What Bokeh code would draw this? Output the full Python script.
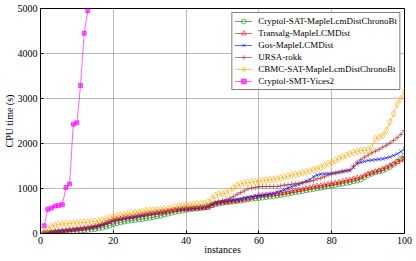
from bokeh.plotting import figure
from bokeh.models import Range1d, FixedTicker, Legend, LegendItem
from bokeh.embed import file_html
from bokeh.resources import INLINE

instances = list(range(1, 101))

cryptol_sat = [5, 8, 12, 18, 22, 28, 35, 42, 50, 58,
               65, 72, 80, 90, 100, 115, 130, 150, 175, 210,
               230, 250, 265, 280, 290, 300, 315, 325, 338, 350,
               365, 380, 400, 420, 440, 460, 480, 495, 510, 525,
               535, 545, 555, 565, 575, 600, 630, 650, 665, 680,
               690, 700, 710, 720, 730, 745, 760, 770, 780, 790,
               800, 810, 820, 830, 844, 855, 870, 885, 900, 918,
               930, 945, 960, 975, 990, 1005, 1015, 1030, 1050, 1067,
               1080, 1095, 1110, 1125, 1141, 1160, 1178, 1200, 1250, 1300,
               1330, 1360, 1380, 1400, 1437, 1480, 1530, 1600, 1660, 1730]

transalg = [10, 18, 25, 35, 45, 55, 65, 75, 82, 90,
            100, 110, 125, 140, 155, 175, 200, 230, 260, 290,
            310, 325, 340, 355, 365, 375, 390, 405, 420, 437,
            445, 455, 465, 478, 490, 505, 518, 528, 535, 540,
            545, 550, 555, 560, 565, 570, 610, 659, 675, 689,
            695, 705, 715, 725, 740, 755, 770, 790, 815, 844,
            850, 858, 865, 872, 881, 895, 910, 925, 940, 955,
            970, 985, 1000, 1020, 1040, 1055, 1067, 1080, 1095, 1104,
            1120, 1140, 1160, 1180, 1193, 1215, 1235, 1252, 1290, 1326,
            1350, 1375, 1400, 1437, 1470, 1510, 1550, 1590, 1625, 1659]

gos = [8, 15, 25, 40, 55, 62, 70, 80, 90, 100,
       108, 118, 128, 140, 150, 170, 195, 220, 250, 289,
       305, 320, 335, 350, 362, 375, 390, 405, 420, 437,
       448, 460, 472, 485, 500, 515, 530, 540, 548, 555,
       560, 565, 570, 575, 580, 600, 640, 680, 700, 710,
       720, 730, 740, 750, 765, 790, 807, 815, 830, 840,
       850, 862, 875, 890, 918, 940, 975, 1010, 1040, 1067,
       1095, 1125, 1163, 1200, 1260, 1300, 1320, 1325, 1330, 1335,
       1345, 1360, 1375, 1390, 1400, 1470, 1548, 1580, 1600, 1622,
       1630, 1640, 1650, 1659, 1680, 1700, 1733, 1770, 1820, 1882]

ursa = [10, 20, 30, 40, 50, 60, 70, 80, 90, 100,
        110, 120, 135, 150, 170, 190, 215, 245, 275, 310,
        325, 340, 355, 365, 378, 390, 405, 420, 435, 450,
        460, 472, 485, 498, 510, 522, 535, 545, 555, 565,
        570, 578, 585, 595, 605, 625, 660, 690, 710, 730,
        750, 780, 820, 870, 910, 950, 993, 1010, 1025, 1040,
        1042, 1043, 1044, 1044, 1044, 1060, 1075, 1085, 1095, 1104,
        1115, 1130, 1145, 1160, 1180, 1215, 1230, 1260, 1300, 1326,
        1345, 1365, 1385, 1400, 1415, 1500, 1585, 1640, 1696, 1740,
        1790, 1830, 1870, 1918, 1960, 2010, 2067, 2130, 2200, 2289]

cbmc = [30, 110, 155, 178, 200, 210, 215, 220, 230, 237,
        240, 245, 250, 258, 266, 280, 300, 326, 345, 370,
        390, 405, 420, 440, 452, 465, 480, 492, 503, 511,
        520, 528, 535, 542, 548, 560, 585, 610, 622, 630,
        638, 645, 650, 655, 660, 700, 770, 844, 870, 885,
        896, 950, 1010, 1060, 1104, 1120, 1130, 1140, 1150, 1163,
        1172, 1182, 1192, 1203, 1215, 1235, 1255, 1275, 1295, 1311,
        1330, 1350, 1370, 1395, 1415, 1437, 1470, 1510, 1550, 1585,
        1620, 1660, 1700, 1735, 1770, 1800, 1825, 1844, 1850, 1859,
        1904, 2104, 2141, 2178, 2289, 2474, 2660, 2882, 2990, 3150]

smt_instances = list(range(1, 14))
cryptol_smt = [170, 540, 565, 610, 620, 640, 1020, 1100, 2430, 2460, 3290, 4450, 4950]

series_names = ["Cryptol-SAT-MapleLcmDistChronoBt", "Transalg-MapleLCMDist",
                "Gos-MapleLCMDist", "URSA-rokk", "CBMC-SAT-MapleLcmDistChronoBt",
                "Cryptol-SMT-Yices2"]
x_ticks = [0, 20, 40, 60, 80, 100]
y_ticks = [0, 1000, 2000, 3000, 4000, 5000]

FONT = "Liberation Serif"

p = figure(width=414, height=260, output_backend="svg", toolbar_location=None,
           x_range=Range1d(0, 100), y_range=Range1d(0, 5000),
           min_border_left=37, min_border_right=10, min_border_top=8,
           min_border_bottom=27,
           x_axis_label="instances", y_axis_label="CPU time (s)")
p.background_fill_color = "white"
p.border_fill_color = "white"
p.outline_line_color = "black"
p.outline_line_width = 1

for ax in (p.xaxis[0], p.yaxis[0]):
    ax.major_label_text_font = FONT
    ax.major_label_text_font_size = "10px"
    ax.major_label_text_color = "black"
    ax.axis_label_text_font = FONT
    ax.axis_label_text_font_size = "10px"
    ax.axis_label_text_font_style = "normal"
    ax.axis_label_text_color = "black"
    ax.axis_line_color = "black"
    ax.major_tick_in = 3
    ax.major_tick_out = 0
    ax.minor_tick_in = 0
    ax.minor_tick_out = 0
    ax.major_tick_line_color = "black"
    ax.major_label_standoff = 3
p.xaxis[0].axis_label_standoff = -3
p.yaxis[0].axis_label_standoff = 0
p.xaxis.ticker = FixedTicker(ticks=x_ticks)
p.yaxis.ticker = FixedTicker(ticks=y_ticks)

for g in (p.xgrid[0], p.ygrid[0]):
    g.grid_line_color = "#777777"
    g.grid_line_dash = "1 1"
    g.grid_line_width = 1
p.xgrid.ticker = FixedTicker(ticks=x_ticks)
p.ygrid.ticker = FixedTicker(ticks=y_ticks)

A = 0.6
items = []

def add(xs, ys, color, marker, size, fill):
    r1 = p.line(xs, ys, line_color=color, line_alpha=A, line_width=1)
    r2 = p.scatter(xs, ys, marker=marker, size=size, line_color=color, line_alpha=A,
                   fill_color=color if fill else None, fill_alpha=A if fill else 0,
                   line_width=1)
    return [r1, r2]

items.append(LegendItem(label=series_names[0], renderers=add(instances, cryptol_sat, "#008000", "circle", 5, False)))
items.append(LegendItem(label=series_names[1], renderers=add(instances, transalg, "#ff0000", "triangle", 5, False)))
items.append(LegendItem(label=series_names[2], renderers=add(instances, gos, "#0000ff", "x", 5, False)))
items.append(LegendItem(label=series_names[3], renderers=add(instances, ursa, "#a52a2a", "cross", 5, False)))
items.append(LegendItem(label=series_names[4], renderers=add(instances, cbmc, "#ffa500", "diamond", 7, False)))
items.append(LegendItem(label=series_names[5], renderers=add(smt_instances, cryptol_smt, "#ff00ff", "square", 4, True)))

legend = Legend(items=items, location="top_right")
legend.label_text_font = FONT
legend.label_text_font_size = "9px"
legend.label_text_color = "black"
legend.label_height = 12
legend.glyph_height = 12
legend.glyph_width = 18
legend.label_standoff = 6
legend.spacing = 0
legend.padding = 2
legend.margin = 4
legend.border_line_color = "black"
legend.border_line_width = 1
legend.background_fill_alpha = 1
p.add_layout(legend)

open("out.html", "w").write(file_html(p, INLINE))
